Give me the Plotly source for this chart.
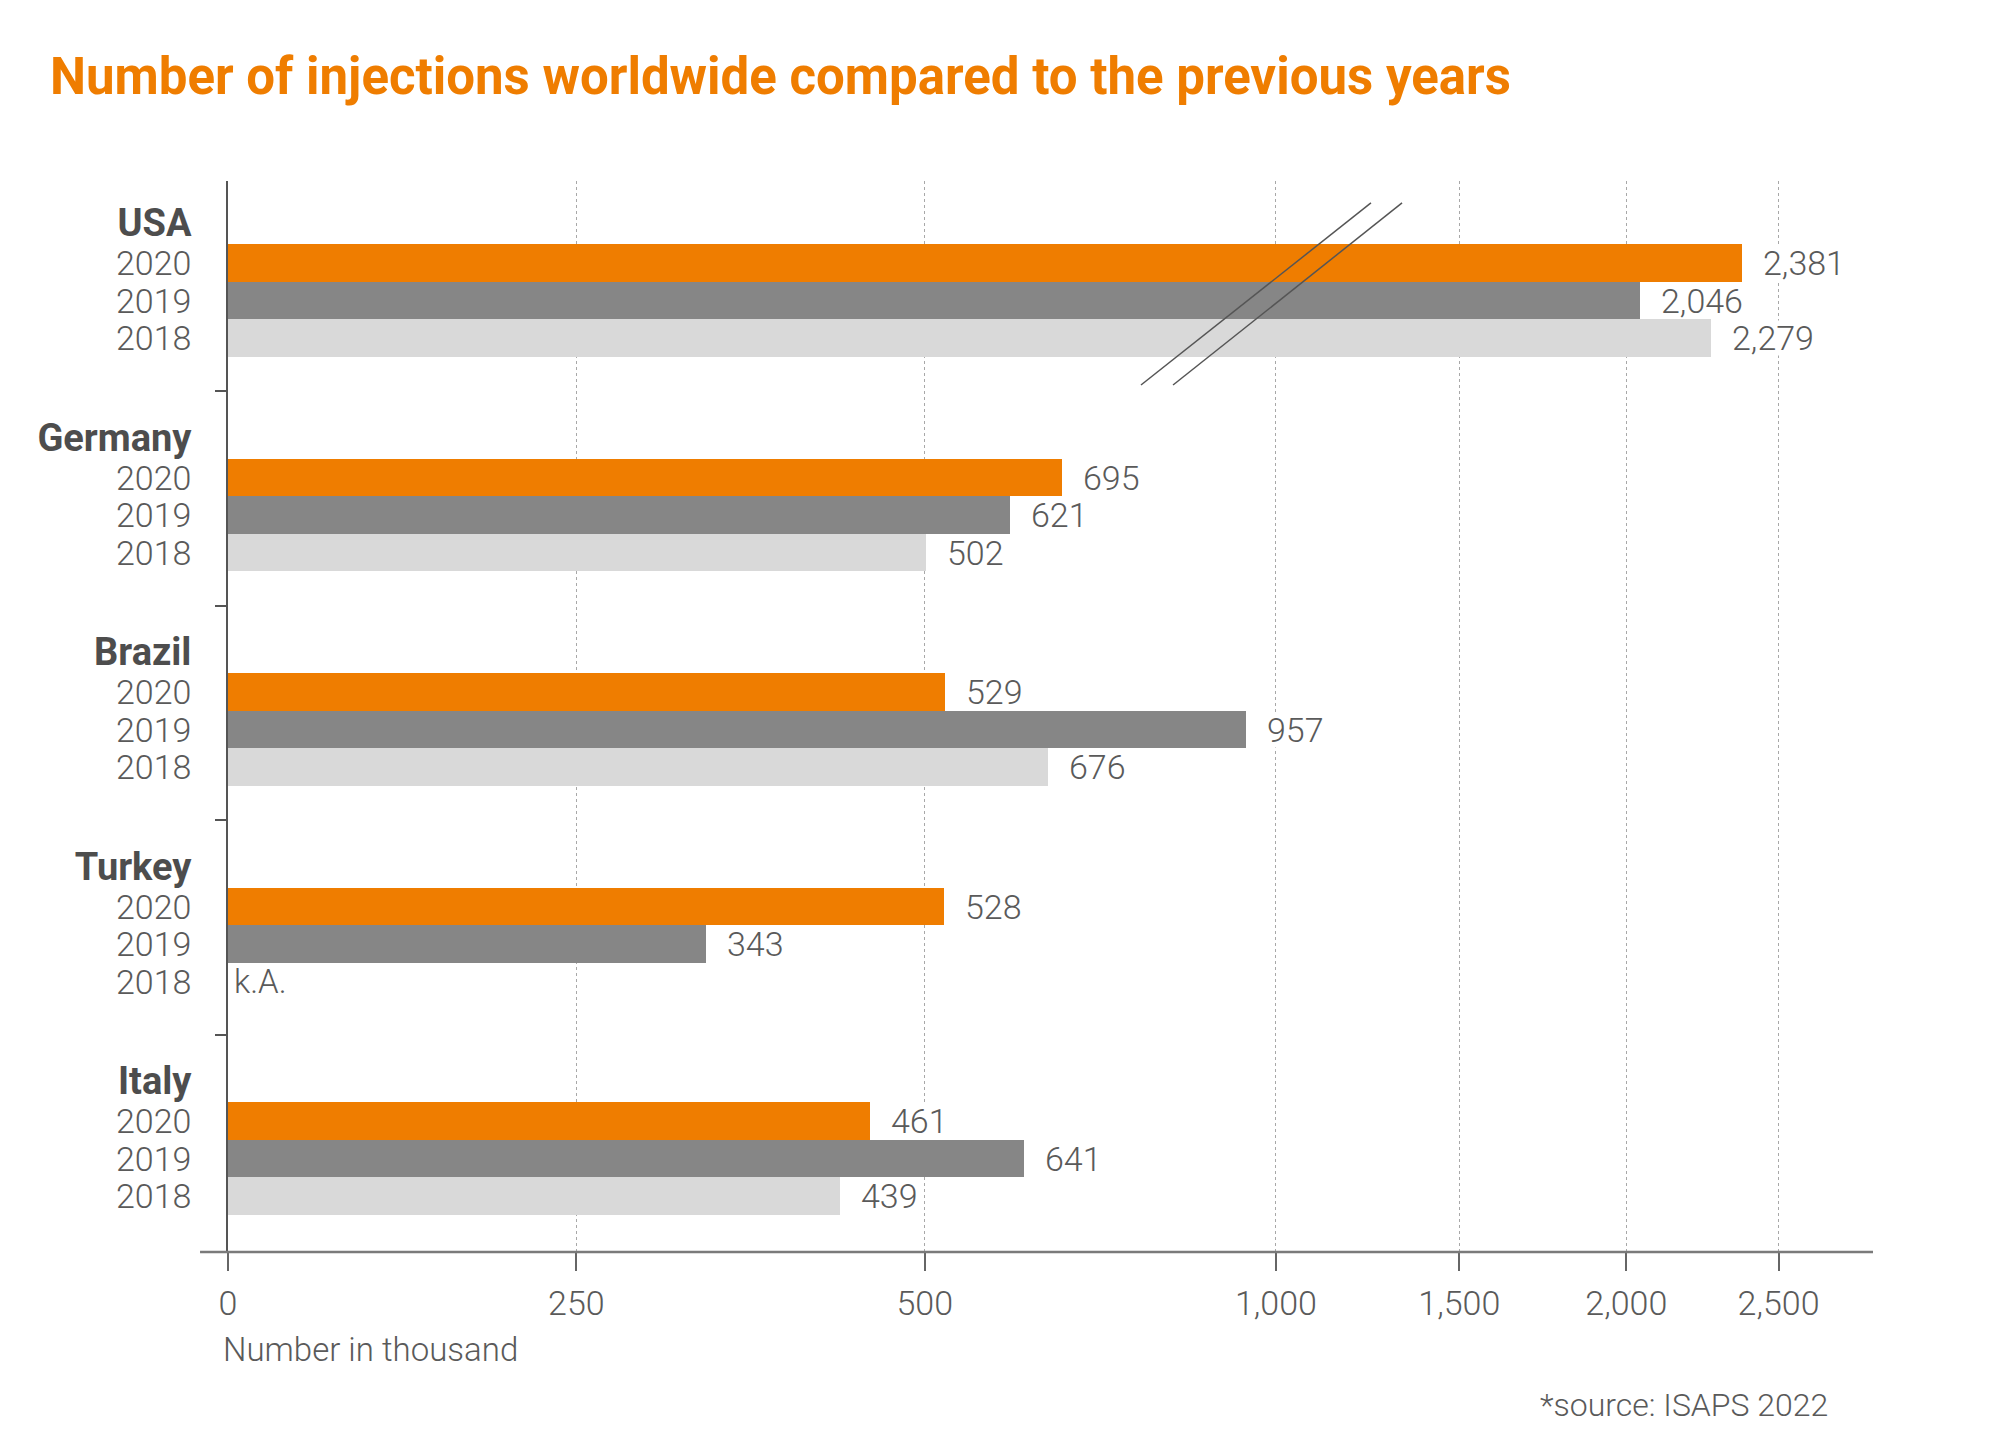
import numpy as np
import plotly.graph_objects as go

# data (number of injections, in thousand)
countries = ["USA", "Germany", "Brazil", "Turkey", "Italy"]
years = ["2020", "2019", "2018"]
v2020 = [2381, 695, 529, 528, 461]
v2019 = [2046, 621, 957, 343, 641]
v2018 = [2279, 502, 676, None, 439]

# broken x scale: tick values and where they sit on the axis
tick_vals = [0, 250, 500, 1000, 1500, 2000, 2500]
tick_text = ["0", "250", "500", "1,000", "1,500", "2,000", "2,500"]
tick_pos = [0, 250, 500, 752, 883.6, 1003.5, 1112.7]

ORANGE = "#EF7D00"
DARK = "#868686"
LIGHT = "#D9D9D9"
TXT = "#5a5a5a"
FONT = "Roboto"

colors = [ORANGE, DARK, LIGHT]
series = [v2020, v2019, v2018]

PITCH = 5.72  # group spacing in bar heights


def scale(v):
    return float(np.interp(v, tick_vals, tick_pos))


def row_y(i, j):
    return i * PITCH + j


fig = go.Figure()

for j, (yr, vals, col) in enumerate(zip(years, series, colors)):
    xs, ys = [], []
    for i, v in enumerate(vals):
        if v is None:
            continue
        xs.append(scale(v))
        ys.append(row_y(i, j))
    fig.add_trace(go.Bar(x=xs, y=ys, orientation="h", width=1,
                         marker=dict(color=col, line_width=0),
                         name=yr, hoverinfo="skip"))

# value labels (white box hides the dotted grid behind the text)
for j, vals in enumerate(series):
    for i, v in enumerate(vals):
        if v is None:
            fig.add_annotation(x=0, y=row_y(i, j), text="k.A.", showarrow=False,
                               xanchor="left", xshift=4,
                               font=dict(family=FONT, size=33, color=TXT, weight=300))
        else:
            fig.add_annotation(x=scale(v), y=row_y(i, j), text=f"{v:,}", showarrow=False,
                               xanchor="left", xshift=20, bgcolor="white", borderpad=0,
                               height=34, valign="middle",
                               font=dict(family=FONT, size=34, color=TXT, weight=300))

# y tick labels: country header + years
yvals, ytext = [], []
for i, c in enumerate(countries):
    yvals.append(i * PITCH - 1.04)
    ytext.append(f'<span style="font-size:38px;color:#4d4d4d"><b>{c}</b></span>')
    for j, yr in enumerate(years):
        yvals.append(row_y(i, j))
        ytext.append(yr)
seps = [i * PITCH - 2.3 for i in range(1, len(countries))]

# axis break marks
for x0, x1 in [(0.555, 0.6948), (0.5745, 0.7137)]:
    fig.add_shape(type="line", xref="paper", yref="paper", x0=x0, y0=0.8095, x1=x1, y1=0.9795,
                  line=dict(color="#555555", width=1.5))

# x axis line, extended a bit left of the y axis
fig.add_shape(type="line", xref="paper", yref="paper", x0=-0.017, x1=1, y0=0, y1=0,
              line=dict(color="#7a7a7a", width=2.5))

fig.add_annotation(xref="paper", yref="paper", x=-0.0043, y=-0.0915,
                   text="Number in thousand", showarrow=False, xanchor="left", yanchor="middle",
                   font=dict(family=FONT, size=33, color=TXT, weight=300))
fig.add_annotation(xref="paper", yref="paper", x=0.974, y=-0.1429,
                   text="*source: ISAPS 2022", showarrow=False, xanchor="right", yanchor="middle",
                   font=dict(family=FONT, size=32, color=TXT, weight=300))

fig.update_layout(
    width=2000, height=1450,
    margin=dict(l=220, r=135, t=173, b=206),
    paper_bgcolor="white", plot_bgcolor="white",
    showlegend=False, bargap=0, barmode="overlay",
    title=dict(text="<b>Number of injections worldwide compared to the previous years</b>",
               xref="container", yref="container", x=0.021, y=0.953,
               xanchor="left", yanchor="middle",
               font=dict(family=FONT, size=51, color=ORANGE)),
    xaxis=dict(range=[0, 1180.5], tickmode="array", tickvals=tick_pos, ticktext=tick_text,
               showgrid=True, gridcolor="#a8a8a8", griddash="dot", gridwidth=1,
               zeroline=False, showline=False,
               ticks="outside", ticklen=18, tickwidth=1.5, tickcolor="#666666",
               ticklabelstandoff=3,
               tickfont=dict(family=FONT, size=34, color=TXT, weight=300)),
    yaxis=dict(range=[26.37, -2.19], tickmode="array", tickvals=yvals, ticktext=ytext,
               showgrid=False, zeroline=False,
               showline=True, linecolor="#555555", linewidth=1.5,
               ticks="", ticklabelstandoff=28,
               minor=dict(tickmode="array", tickvals=seps, ticks="outside", ticklen=11,
                          tickwidth=2, tickcolor="#555555", showgrid=False),
               tickfont=dict(family=FONT, size=34, color=TXT, weight=300)),
)

fig.write_html("out.html")
